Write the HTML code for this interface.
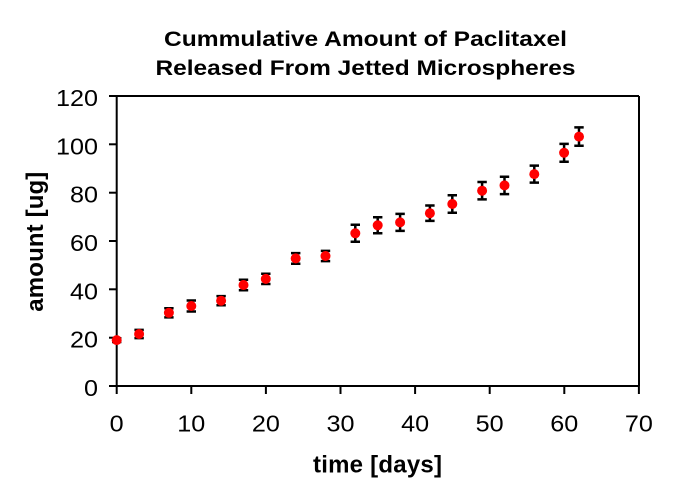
<!DOCTYPE html>
<html>
<head>
<meta charset="utf-8">
<style>
html,body{margin:0;padding:0;background:#fff;}
svg{display:block;}
text{font-family:"Liberation Sans",Arial,sans-serif;fill:#000;}
</style>
</head>
<body>
<svg width="673" height="496" viewBox="0 0 673 496" xmlns="http://www.w3.org/2000/svg">
<rect width="673" height="496" fill="#fff"/>
<!-- Title -->
<text x="164" y="46" font-size="21" font-weight="bold" textLength="403" lengthAdjust="spacingAndGlyphs">Cummulative Amount of Paclitaxel</text>
<text x="155.5" y="75" font-size="21" font-weight="bold" textLength="420" lengthAdjust="spacingAndGlyphs">Released From Jetted Microspheres</text>

<!-- Plot frame -->
<g stroke="#000" stroke-width="2" fill="none">
<line x1="116.7" y1="96" x2="639" y2="96"/>
<line x1="639" y1="96" x2="639" y2="386"/>
<line x1="116.7" y1="95" x2="116.7" y2="387"/>
<line x1="109" y1="386" x2="639" y2="386"/>
<!-- y ticks -->
<line x1="109" y1="96" x2="117" y2="96"/>
<line x1="109" y1="144.3" x2="117" y2="144.3"/>
<line x1="109" y1="192.7" x2="117" y2="192.7"/>
<line x1="109" y1="241" x2="117" y2="241"/>
<line x1="109" y1="289.3" x2="117" y2="289.3"/>
<line x1="109" y1="337.7" x2="117" y2="337.7"/>
<!-- x ticks -->
<line x1="116.7" y1="386" x2="116.7" y2="394"/>
<line x1="191.3" y1="386" x2="191.3" y2="394"/>
<line x1="265.9" y1="386" x2="265.9" y2="394"/>
<line x1="340.5" y1="386" x2="340.5" y2="394"/>
<line x1="415.1" y1="386" x2="415.1" y2="394"/>
<line x1="489.7" y1="386" x2="489.7" y2="394"/>
<line x1="564.3" y1="386" x2="564.3" y2="394"/>
<line x1="638.9" y1="386" x2="638.9" y2="394"/>
</g>

<!-- y tick labels -->
<g font-size="23" text-anchor="end">
<text x="98" y="106" textLength="42" lengthAdjust="spacingAndGlyphs">120</text>
<text x="98" y="154.3" textLength="42" lengthAdjust="spacingAndGlyphs">100</text>
<text x="98" y="202.7" textLength="28" lengthAdjust="spacingAndGlyphs">80</text>
<text x="98" y="251" textLength="28" lengthAdjust="spacingAndGlyphs">60</text>
<text x="98" y="299.3" textLength="28" lengthAdjust="spacingAndGlyphs">40</text>
<text x="98" y="347.7" textLength="28" lengthAdjust="spacingAndGlyphs">20</text>
<text x="98" y="396" textLength="14" lengthAdjust="spacingAndGlyphs">0</text>
</g>

<!-- x tick labels -->
<g font-size="23" text-anchor="middle">
<text x="116.7" y="431.5" textLength="14" lengthAdjust="spacingAndGlyphs">0</text>
<text x="191.3" y="431.5" textLength="28" lengthAdjust="spacingAndGlyphs">10</text>
<text x="265.9" y="431.5" textLength="28" lengthAdjust="spacingAndGlyphs">20</text>
<text x="340.5" y="431.5" textLength="28" lengthAdjust="spacingAndGlyphs">30</text>
<text x="415.1" y="431.5" textLength="28" lengthAdjust="spacingAndGlyphs">40</text>
<text x="489.7" y="431.5" textLength="28" lengthAdjust="spacingAndGlyphs">50</text>
<text x="564.3" y="431.5" textLength="28" lengthAdjust="spacingAndGlyphs">60</text>
<text x="638.9" y="431.5" textLength="28" lengthAdjust="spacingAndGlyphs">70</text>
</g>

<!-- axis titles -->
<text x="377.5" y="472.5" font-size="24" font-weight="bold" text-anchor="middle" textLength="129">time [days]</text>
<text transform="translate(43,241.7) rotate(-90)" x="0" y="0" font-size="24" font-weight="bold" text-anchor="middle" textLength="140">amount [ug]</text>

<!-- error bars -->
<g stroke="#000" stroke-width="2.5" fill="none">
<path d="M116.7 338.2V342M112 338.2H121.4M112 342H121.4"/>
<path d="M139.1 329.9V338.1M134.4 329.9H143.8M134.4 338.1H143.8"/>
<path d="M168.9 308.2V317.4M164.2 308.2H173.6M164.2 317.4H173.6"/>
<path d="M191.3 300.5V311.5M186.6 300.5H196M186.6 311.5H196"/>
<path d="M221.1 296.1V305.3M216.4 296.1H225.8M216.4 305.3H225.8"/>
<path d="M243.5 279.7V290.3M238.8 279.7H248.2M238.8 290.3H248.2"/>
<path d="M265.8 273.8V284M261.1 273.8H270.5M261.1 284H270.5"/>
<path d="M295.7 253.1V263.7M291 253.1H300.4M291 263.7H300.4"/>
<path d="M325.5 250.9V261.1M320.8 250.9H330.2M320.8 261.1H330.2"/>
<path d="M355.3 224.8V241.8M350.6 224.8H360M350.6 241.8H360"/>
<path d="M377.7 217.3V233.3M373 217.3H382.4M373 233.3H382.4"/>
<path d="M400.1 213.9V230.9M395.4 213.9H404.8M395.4 230.9H404.8"/>
<path d="M429.9 205.5V220.9M425.2 205.5H434.6M425.2 220.9H434.6"/>
<path d="M452.3 195.3V212.7M447.6 195.3H457M447.6 212.7H457"/>
<path d="M482.1 182V199.4M477.4 182H486.8M477.4 199.4H486.8"/>
<path d="M504.5 176.7V194.1M499.8 176.7H509.2M499.8 194.1H509.2"/>
<path d="M534.3 165.6V182.6M529.6 165.6H539M529.6 182.6H539"/>
<path d="M564.1 143.9V161.7M559.4 143.9H568.8M559.4 161.7H568.8"/>
<path d="M579 127.4V145.8M574.3 127.4H583.7M574.3 145.8H583.7"/>
</g>

<!-- markers -->
<g fill="#ff0000">
<circle cx="116.7" cy="340.1" r="5"/>
<circle cx="139.1" cy="334.0" r="5"/>
<circle cx="168.9" cy="312.8" r="5"/>
<circle cx="191.3" cy="306.0" r="5"/>
<circle cx="221.1" cy="300.7" r="5"/>
<circle cx="243.5" cy="285.0" r="5"/>
<circle cx="265.8" cy="278.9" r="5"/>
<circle cx="295.7" cy="258.4" r="5"/>
<circle cx="325.5" cy="256.0" r="5"/>
<circle cx="355.3" cy="233.3" r="5"/>
<circle cx="377.7" cy="225.3" r="5"/>
<circle cx="400.1" cy="222.4" r="5"/>
<circle cx="429.9" cy="213.2" r="5"/>
<circle cx="452.3" cy="204.0" r="5"/>
<circle cx="482.1" cy="190.7" r="5"/>
<circle cx="504.5" cy="185.4" r="5"/>
<circle cx="534.3" cy="174.1" r="5"/>
<circle cx="564.1" cy="152.8" r="5"/>
<circle cx="579.0" cy="136.6" r="5"/>
</g>
</svg>
</body>
</html>
